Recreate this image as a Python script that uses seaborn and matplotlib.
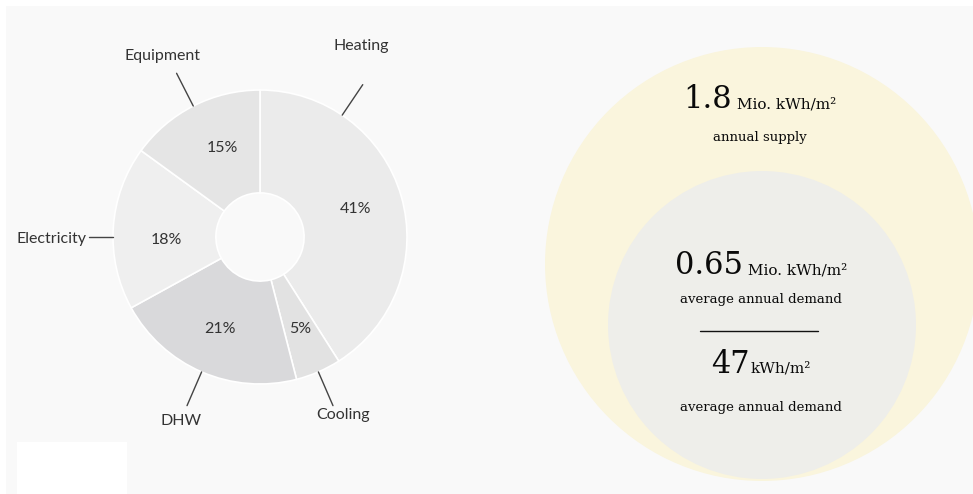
import numpy as np
import matplotlib
matplotlib.use("Agg")
import matplotlib.pyplot as plt
from matplotlib.patches import Circle, Rectangle
import seaborn as sns

# Energy demand shares (clockwise from 12 o'clock)
categories = ["Heating", "Cooling", "DHW", "Electricity", "Equipment"]
shares = [41, 5, 21, 18, 15]
wedge_colors = ["#ebebeb", "#e2e2e2", "#d9d9db", "#efefef", "#e5e5e5"]

# Supply / demand figures shown in the nested circles
supply_value = "1.8"
supply_unit = " Mio. kWh/m²"
supply_caption = "annual supply"
demand_value = "0.65"
demand_unit = " Mio. kWh/m²"
demand_caption = "average annual demand"
specific_value = "47"
specific_unit = "kWh/m²"
specific_caption = "average annual demand"

sns.set_theme(style="white")
plt.rcParams["font.family"] = ["Lato", "DejaVu Sans"]

W, H = 973, 494
fig = plt.figure(figsize=(W / 100, H / 100), dpi=100, facecolor="#f9f9f9")
ax = fig.add_axes([0, 0, 1, 1])

# ---- donut chart ----
cx, cy, R = 260, 257, 147
wedges, _, pct_texts = ax.pie(
    shares, colors=wedge_colors, startangle=90, counterclock=False,
    center=(cx, cy), radius=R, autopct=lambda p: f"{p:.0f}%",
    pctdistance=0.68, labels=None,
    wedgeprops=dict(width=R * 0.70, edgecolor="white", linewidth=1.2),
    textprops=dict(fontsize=11.5, color="#333333"),
    frame=True,
)
ax.set_xlim(0, W)
ax.set_ylim(0, H)
ax.set_aspect("equal")
ax.axis("off")

# percentage labels of the two left wedges sit slightly off their mid-angle
for idx, ang, dist in [(3, 182, 0.64), (4, 113, 0.66)]:
    a = np.deg2rad(ang)
    pct_texts[idx].set_position((cx + dist * R * np.cos(a), cy + dist * R * np.sin(a)))

# thin white margin along top and left, white patch bottom-left
ax.add_patch(Rectangle((0, H - 6), W, 6, color="white", lw=0, zorder=0))
ax.add_patch(Rectangle((0, 0), 6, H, color="white", lw=0, zorder=0))
ax.add_patch(Rectangle((17, 0), 110, 52, color="white", lw=0, zorder=0))

# leader lines and category names
mid_angles = [90 - 360 * (sum(shares[:i]) + shares[i] / 2) / 100 for i in range(len(shares))]
leader_angles = list(mid_angles)
leader_angles[0] = 56    # heating leader sits in the upper part of its wedge
leader_angles[3] = 180   # electricity leader is horizontal
leader_len = [1.25, 1.25, 1.25, 1.16, 1.25]
label_off = {  # text offset from end of the leader, and alignment
    "Heating": ((-2, 39), "center", "center"),
    "Cooling": ((10, -9), "center", "center"),
    "DHW": ((-6, -15), "center", "center"),
    "Electricity": ((-3, -2), "right", "center"),
    "Equipment": ((-14, 17), "center", "center"),
}
for name, ang, ln in zip(categories, leader_angles, leader_len):
    a = np.deg2rad(ang)
    x0, y0 = cx + R * np.cos(a), cy + R * np.sin(a)
    x1, y1 = cx + R * ln * np.cos(a), cy + R * ln * np.sin(a)
    ax.plot([x0, x1], [y0, y1], color="#444444", lw=1.0, zorder=3)
    (dx, dy), ha, va = label_off[name]
    ax.text(x1 + dx, y1 + dy, name, ha=ha, va=va, fontsize=11.5, color="#333333")

# ---- nested supply / demand circles ----
ax.add_patch(Circle((762, 230), 217, facecolor="#faf5dd", edgecolor="none", zorder=1))
ax.add_patch(Circle((762, 169), 154, facecolor="#eeeeea", edgecolor="none", zorder=2))

serif = ["DejaVu Serif"]


def value_line(y, value, unit, x_center, big=22, small=11):
    t1 = ax.text(0, y, value, fontsize=big, family=serif, color="#0a0a0a",
                 ha="left", va="baseline", zorder=5)
    t2 = ax.text(0, y, unit, fontsize=small, family=serif, color="#0a0a0a",
                 ha="left", va="baseline", zorder=5)
    fig.canvas.draw()
    r = fig.canvas.get_renderer()
    w1 = t1.get_window_extent(r).width
    w2 = t2.get_window_extent(r).width
    x0 = x_center - (w1 + w2) / 2
    t1.set_x(x0)
    t2.set_x(x0 + w1)


value_line(494 - 108, supply_value, supply_unit, 760)
ax.text(760, 494 - 137, supply_caption, fontsize=9.5, family=serif,
        ha="center", va="center", color="#0a0a0a", zorder=5)

value_line(494 - 274, demand_value, demand_unit, 761)
ax.text(761, 494 - 300, demand_caption, fontsize=9.5, family=serif,
        ha="center", va="center", color="#0a0a0a", zorder=5)

ax.plot([700, 818], [494 - 331, 494 - 331], color="#111111", lw=1.0, zorder=5)

value_line(494 - 373, specific_value, specific_unit, 761)
ax.text(761, 494 - 408, specific_caption, fontsize=9.5, family=serif,
        ha="center", va="center", color="#0a0a0a", zorder=5)

fig.savefig("out.png", dpi=100, facecolor=fig.get_facecolor())
